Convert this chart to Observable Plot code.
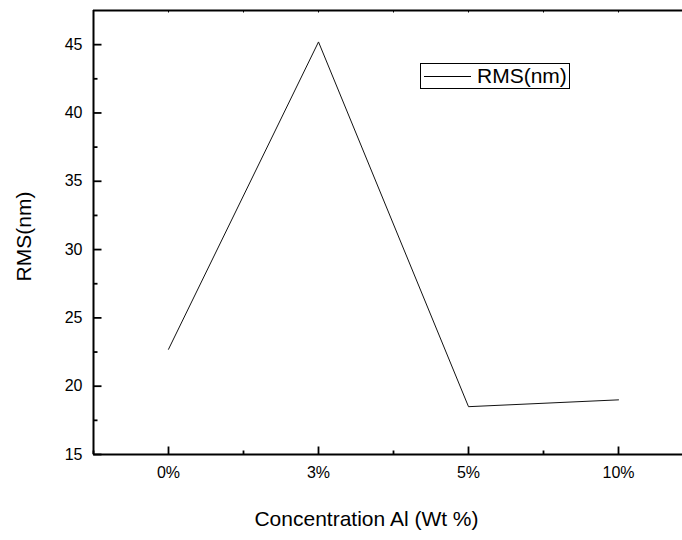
<!DOCTYPE html>
<html>
<head>
<meta charset="utf-8">
<script src="https://cdn.jsdelivr.net/npm/d3@7"></script>
<script src="https://cdn.jsdelivr.net/npm/@observablehq/plot@0.6"></script>
<style>
  html, body { margin: 0; padding: 0; background: #fff; overflow: hidden; }
  #wrap { position: relative; width: 682px; height: 540px; overflow: hidden; }
  #legend {
    position: absolute; left: 420px; top: 63px; width: 148px; height: 24px;
    border: 1px solid #000; background: #fff; box-sizing: content-box;
    font-family: "Liberation Sans", Arial, sans-serif; font-size: 21px; color: #000;
  }
  #legend .ln { position: absolute; left: 3px; top: 12px; width: 47px; height: 0; border-top: 1px solid #000; }
  #legend .tx { position: absolute; left: 56px; top: 0px; line-height: 24px; }
</style>
</head>
<body>
<div id="wrap"></div>
<script>
const categories = ["0%", "3%", "5%", "10%"];
const rmsValues = [22.7, 45.2, 18.5, 19.0];
const yMajorTicks = [15, 20, 25, 30, 35, 40, 45];
const yMinorTicks = [17.5, 22.5, 27.5, 32.5, 37.5, 42.5];
const xMinorTicks = [-0.5, 0.5, 1.5, 2.5, 3.5];
const yDomain = [15, 47.5];
const xDomain = [-0.5, 3.5];
const seriesName = "RMS(nm)";
const xTitle = "Concentration Al (Wt %)";
const yTitle = "RMS(nm)";

const data = categories.map((c, i) => ({i, cat: c, v: rmsValues[i]}));
const xMajor = categories.map((c, i) => i);
const font = "Liberation Sans, Arial, sans-serif";

// plain straight-line tick shape for vector marks
const stick = {draw(context, l) { context.moveTo(0, 0); context.lineTo(0, -l); }};
const tick = (vals, channel, anchor, rotate, length, sw) =>
  Plot.vector(vals, {[channel]: d => d, frameAnchor: anchor, rotate, length, anchor: "start",
    shape: stick, stroke: "#000", strokeWidth: sw, strokeLinecap: "butt"});

const chart = Plot.plot({
  width: 682,
  height: 540,
  marginLeft: 93,
  marginRight: -11,
  marginTop: 10,
  marginBottom: 86,
  style: {fontFamily: font, fontSize: "16px", color: "#000", background: "#fff", overflow: "hidden"},
  x: {domain: xDomain, type: "linear"},
  y: {domain: yDomain},
  marks: [
    Plot.line(data, {x: "i", y: "v", stroke: "#111", strokeWidth: 1}),
    // axis frame lines
    Plot.ruleX([xDomain[0]], {stroke: "#000", strokeWidth: 2}),
    Plot.ruleY([yDomain[0]], {stroke: "#000", strokeWidth: 2}),
    Plot.ruleY([yDomain[1]], {stroke: "#000", strokeWidth: 2}),
    // inward ticks
    tick(yMajorTicks, "y", "left", 90, 8, 1.8),
    tick(yMinorTicks, "y", "left", 90, 4, 1.8),
    tick(xMajor, "x", "bottom", 0, 8, 1.8),
    tick(xMinorTicks, "x", "bottom", 0, 4, 1.8),
    tick(xMajor.concat(xMinorTicks.slice(1)), "x", "top", 180, 2, 1),
    // tick labels
    Plot.axisY({ticks: yMajorTicks, tickSize: 0, tickPadding: 11, label: null, fontSize: 16}),
    Plot.axisX({ticks: xMajor, tickFormat: i => categories[i], tickSize: 0, tickPadding: 12, label: null, fontSize: 16}),
    // titles
    Plot.text([yTitle], {text: d => d, frameAnchor: "left", textAnchor: "middle", rotate: -90, dx: -69, dy: 4, fontSize: 21}),
    Plot.text([xTitle], {text: d => d, frameAnchor: "bottom", textAnchor: "middle", dx: -27, dy: 71, fontSize: 21})
  ]
});

const wrap = document.getElementById("wrap");
wrap.appendChild(chart);
const legend = document.createElement("div");
legend.id = "legend";
legend.innerHTML = `<div class="ln"></div><div class="tx"></div>`;
legend.querySelector(".tx").textContent = seriesName;
wrap.appendChild(legend);
</script>
</body>
</html>
